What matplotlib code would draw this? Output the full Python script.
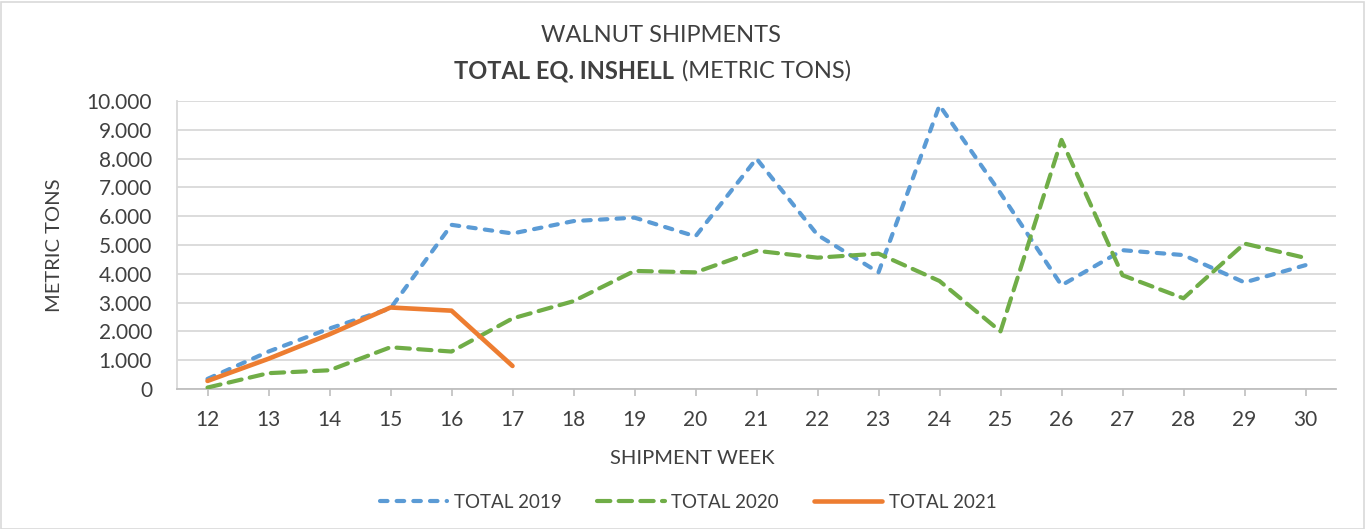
import matplotlib
matplotlib.use("Agg")
import matplotlib.pyplot as plt
from matplotlib.patches import Rectangle
from matplotlib.ticker import FuncFormatter, FixedLocator

weeks = [12, 13, 14, 15, 16, 17, 18, 19, 20, 21, 22, 23, 24, 25, 26, 27, 28, 29, 30]
total_2019 = [350, 1300, 2100, 2800, 5700, 5400, 5830, 5950, 5300, 8000, 5350, 4050, 9850, 6800, 3600, 4820, 4650, 3700, 4300]
total_2020 = [50, 550, 650, 1450, 1300, 2450, 3050, 4100, 4050, 4800, 4560, 4700, 3750, 2000, 8650, 3950, 3150, 5050, 4550]
weeks_2021 = [12, 13, 14, 15, 16, 17]
total_2021 = [280, 1050, 1900, 2830, 2720, 800]

TXT = "#404040"
GRID = "#d9d9d9"
plt.rcParams['font.family'] = ['Lato', 'DejaVu Sans']

W, H = 1365, 529
fig = plt.figure(figsize=(W / 100, H / 100), dpi=100)
fig.patches.append(Rectangle((0.5 / W, 0.5 / H), 1 - 2 / W, 1 - 2 / H, transform=fig.transFigure,
                             fill=False, edgecolor=GRID, linewidth=1.2))

left, right, top, bottom = 177, 1336, 101, 389
ax = fig.add_axes([left / W, 1 - bottom / H, (right - left) / W, (bottom - top) / H])

ax.plot(weeks, total_2019, color="#5B9BD5", linewidth=3, dashes=(1.8, 2.2),
        dash_capstyle="round", solid_joinstyle="round", label="TOTAL 2019", zorder=3)
ax.plot(weeks, total_2020, color="#70AD47", linewidth=3, dashes=(3.2, 2.0),
        dash_capstyle="round", solid_joinstyle="round", label="TOTAL 2020", zorder=3)
ax.plot(weeks_2021, total_2021, color="#ED7D31", linewidth=3.3,
        solid_capstyle="round", solid_joinstyle="round", label="TOTAL 2021", zorder=4)

ax.set_xlim(11.5, 30.5)
ax.set_ylim(0, 10000)
ax.set_yticks(range(0, 10001, 1000))
ax.yaxis.set_major_formatter(FuncFormatter(lambda v, p: f"{int(v):,}".replace(",", ".")))
ax.xaxis.set_major_locator(FixedLocator(weeks))
ax.set_xticklabels([str(w) for w in weeks])
ax.grid(axis="y", color=GRID, linewidth=1.3)
ax.set_axisbelow(True)

for s in ["top", "right"]:
    ax.spines[s].set_visible(False)
ax.spines["left"].set_color(GRID)
ax.spines["left"].set_linewidth(1.3)
ax.spines["bottom"].set_color("#bfbfbf")
ax.spines["bottom"].set_linewidth(1.3)
ax.tick_params(axis="y", length=0, labelsize=15, labelcolor=TXT, pad=18)
ax.tick_params(axis="x", length=5, width=1.2, color="#bfbfbf", labelsize=15, labelcolor=TXT, pad=10)

fig.text(55 / W, 1 - 245 / H, "METRIC TONS", rotation=90, ha="center", va="center", fontsize=14.5, color=TXT)
fig.text(692 / W, 1 - 459 / H, "SHIPMENT WEEK", ha="center", va="center", fontsize=14.5, color=TXT)

fig.text(661 / W, 1 - 35 / H, "WALNUT SHIPMENTS", ha="center", va="center", fontsize=17, color=TXT)
fig.text(674 / W, 1 - 71 / H, "TOTAL EQ. INSHELL", ha="right", va="center", fontsize=17,
         color=TXT, fontweight="bold")
fig.text(682 / W, 1 - 71 / H, "(METRIC TONS)", ha="left", va="center", fontsize=17, color=TXT)

fig.legend(loc="center", bbox_to_anchor=(688 / W, 1 - 502 / H), ncol=3, frameon=False,
           fontsize=13.5, labelcolor=TXT, handlelength=3.6, columnspacing=1.9, handletextpad=0.35)

fig.savefig("out.png", dpi=100)
